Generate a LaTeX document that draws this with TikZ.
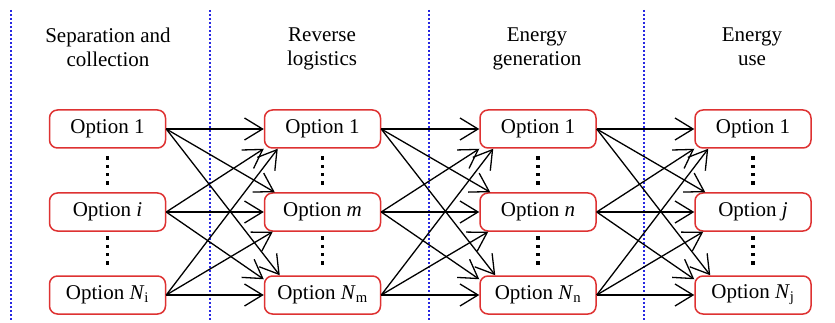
\documentclass[tikz,border=0pt]{standalone}
\usepackage{fontspec}
\setmainfont{Liberation Serif}
\usetikzlibrary{arrows.meta,calc}
\definecolor{boxred}{RGB}{222,50,50}
\definecolor{sepblue}{RGB}{40,40,225}
\begin{document}
\begin{tikzpicture}[x=1pt,y=-1pt,
  optbox/.style={draw=boxred, line width=1.5pt, rounded corners=8pt,
    minimum width=116pt, minimum height=38pt, inner sep=0pt, fill=white,
    font=\fontsize{21}{24}\selectfont},
  stagehead/.style={align=center, anchor=north, inner sep=0pt,
    font=\fontsize{21}{24}\selectfont},
  flow/.style={line width=1.3pt, -{Straight Barb[length=18pt,width=22pt]}},
  stagesep/.style={sepblue, line width=2.2pt, dash pattern=on 2pt off 2pt}]

\useasboundingbox (0,0) rectangle (835,323);

% stage separators
\foreach \x in {11,210,429,644}
  \draw[stagesep] (\x,10) -- (\x,320);

% stage titles
\node[stagehead] (h1) at (108,27.8) {Separation and\\collection};
\node[stagehead] (h2) at (322,27.8) {Reverse\\logistics};
\node[stagehead] (h3) at (537,27.8) {Energy\\generation};
\node[stagehead] (h4) at (752,27.8) {Energy\\use};

% option boxes: column c, row r
\foreach \c/\x/\s in {1/107.5/i, 2/322.5/m, 3/538/n, 4/753/j} {
  \node[optbox] (c\c r1) at (\x,129) {Option 1};
  \node[optbox] (c\c r2) at (\x,212) {Option \textit{\s}};
  \node[optbox] (c\c r3) at (\x,295) {Option \textit{N}\textsubscript{\s}};
  % vertical ellipses between rows
  \foreach \y in {158,166.3,174.6,183,238,246.3,254.6,263}
    \fill (\x-1.6,\y-1.6) rectangle (\x+1.6,\y+1.6);
}

% every option of one stage feeds every option of the next
\foreach \a/\b in {1/2,2/3,3/4} {
  \draw[flow] (c\a r1.east) -- (c\b r1.west);
  \draw[flow] (c\a r1.east) -- ($(c\b r2.north west)+(11,0)$);
  \draw[flow] (c\a r1.east) -- ($(c\b r3.north west)+(16,0)$);
  \draw[flow] (c\a r2.east) -- (c\b r1.south west);
  \draw[flow] (c\a r2.east) -- (c\b r2.west);
  \draw[flow] (c\a r2.east) -- ($(c\b r3.north west)+(0,4)$);
  \draw[flow] (c\a r3.east) -- ($(c\b r1.south west)+(14,0)$);
  \draw[flow] (c\a r3.east) -- ($(c\b r2.south west)+(9,0)$);
  \draw[flow] (c\a r3.east) -- (c\b r3.west);
}
\end{tikzpicture}
\end{document}
